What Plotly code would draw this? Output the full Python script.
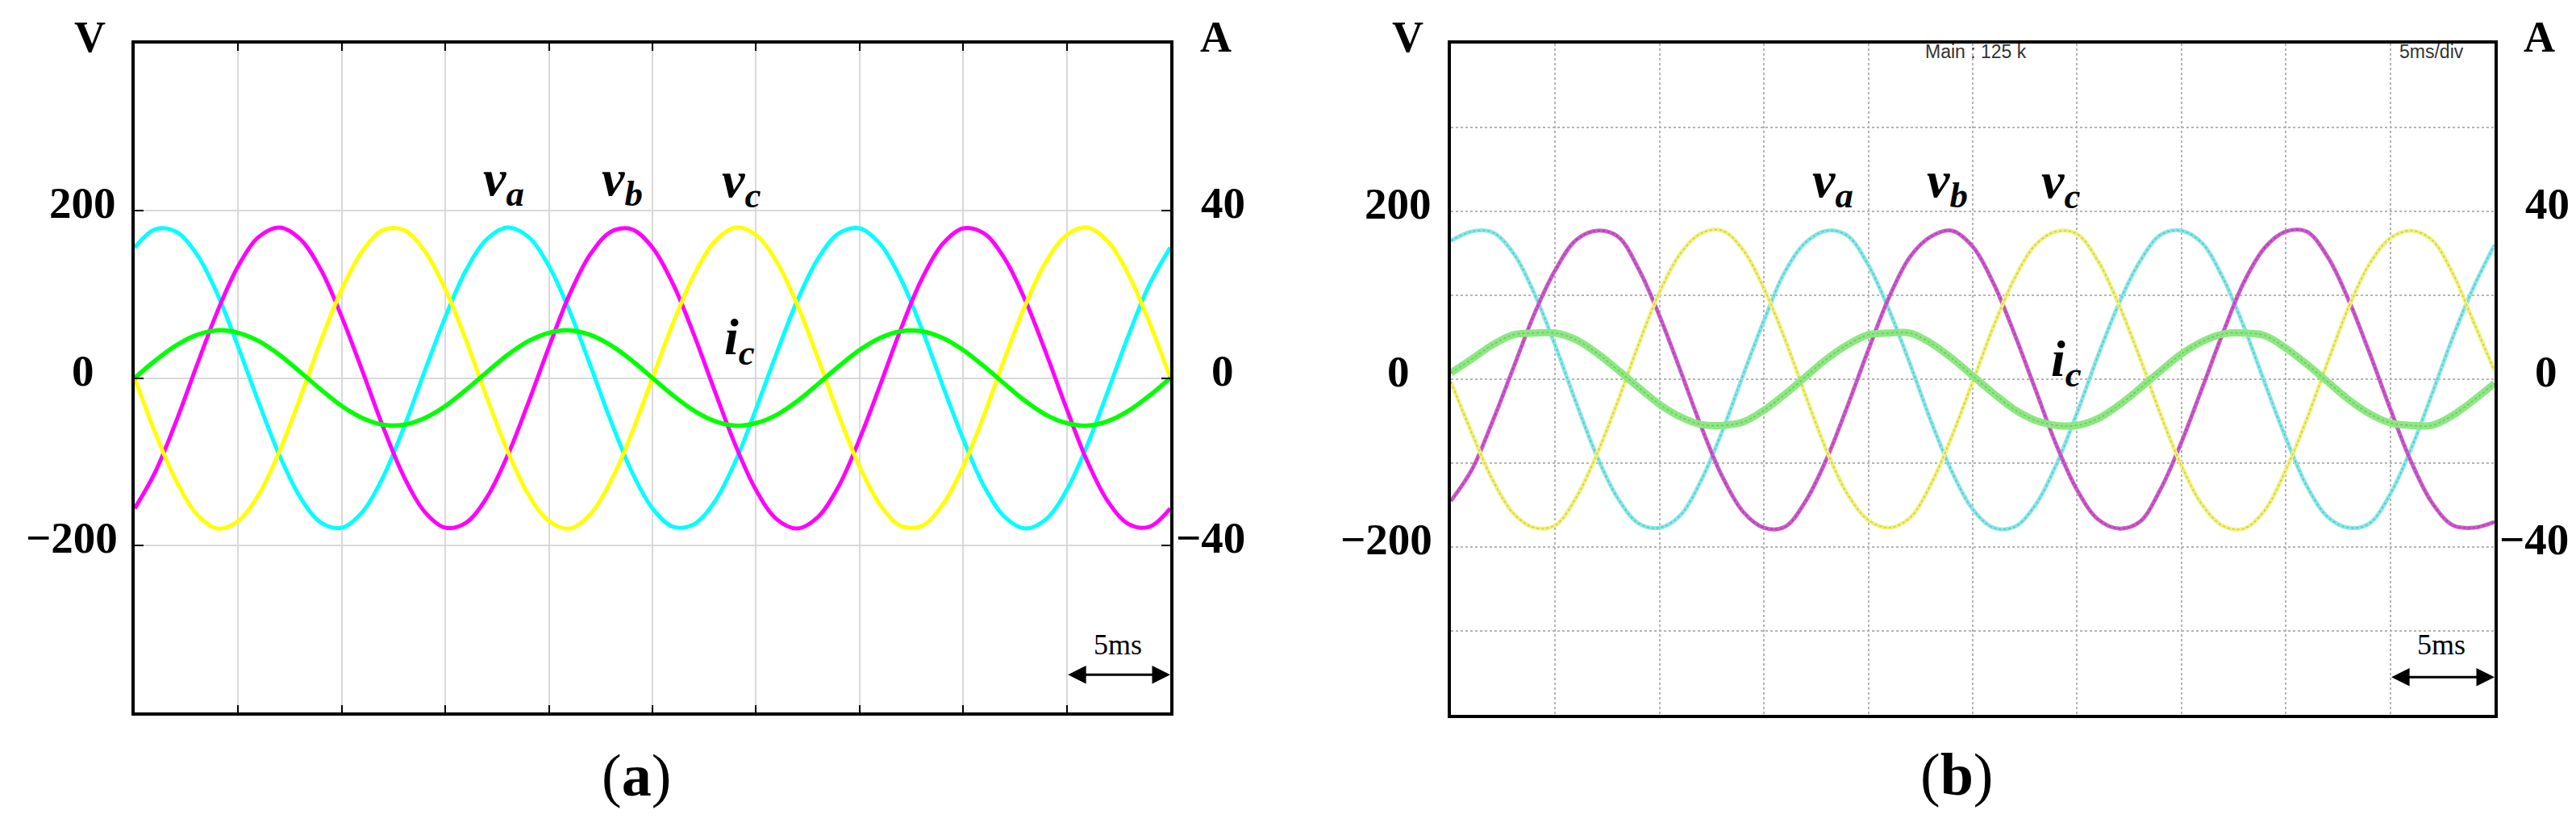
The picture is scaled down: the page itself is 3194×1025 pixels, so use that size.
import plotly.graph_objects as go

# time base (ms), one sample per ms, 5 ms/div, 10 divisions
T_MS = list(range(51))

# (a) simulation: phase voltages (V) and phase-c current (A)
VA_A = [156, 178, 175, 148, 100, 37, -30, -93, -143, -173, -179, -160, -118, -59, 8, 73, 129, 166, 180, 169,
        134, 80, 15, -52, -112, -156, -178, -175, -148, -100, -37, 30, 93, 143, 173, 179, 160, 118, 59, -8,
        -73, -129, -166, -180, -169, -134, -80, -15, 52, 112, 156]
VB_A = [-156, -112, -52, 15, 80, 134, 169, 180, 166, 129, 73, 8, -59, -118, -160, -179, -173, -143, -93, -30,
        37, 100, 148, 175, 178, 156, 112, 52, -15, -80, -134, -169, -180, -166, -129, -73, -8, 59, 118, 160,
        179, 173, 143, 93, 30, -37, -100, -148, -175, -178, -156]
VC_A = [0, -66, -123, -163, -180, -171, -139, -87, -23, 45, 106, 152, 177, 177, 152, 106, 45, -23, -87, -139,
        -171, -180, -163, -123, -66, 0, 66, 123, 163, 180, 171, 139, 87, 23, -45, -106, -152, -177, -177, -152,
        -106, -45, 23, 87, 139, 171, 180, 163, 123, 66, 0]
IC_A = [0, 4.2, 7.8, 10.3, 11.4, 10.8, 8.8, 5.5, 1.4, -2.8, -6.7, -9.6, -11.2, -11.2, -9.6, -6.7, -2.8, 1.4,
        5.5, 8.8, 10.8, 11.4, 10.3, 7.8, 4.2, 0, -4.2, -7.8, -10.3, -11.4, -10.8, -8.8, -5.5, -1.4, 2.8, 6.7,
        9.6, 11.2, 11.2, 9.6, 6.7, 2.8, -1.4, -5.5, -8.8, -10.8, -11.4, -10.3, -7.8, -4.2, 0]

# (b) experiment (oscilloscope capture)
VA_B = [165, 176, 175, 150, 102, 40, -28, -92, -142, -172, -177, -162, -120, -62, 5, 70, 128, 163, 177, 171,
        136, 82, 18, -50, -110, -155, -177, -176, -150, -102, -40, 28, 90, 140, 172, 177, 162, 120, 62, -5,
        -70, -127, -164, -177, -172, -137, -83, -18, 50, 110, 160]
VB_B = [-145, -108, -50, 14, 78, 130, 166, 177, 170, 131, 75, 10, -57, -116, -158, -177, -176, -145, -95, -32,
        35, 98, 146, 170, 177, 158, 114, 54, -12, -78, -132, -167, -178, -170, -131, -75, -10, 56, 116, 157,
        176, 176, 146, 95, 32, -35, -98, -147, -174, -177, -170]
VC_B = [-3, -64, -120, -160, -177, -174, -141, -89, -26, 42, 104, 150, 174, 177, 154, 108, 48, -20, -85, -137,
        -168, -177, -165, -125, -68, -3, 63, 120, 160, 176, 173, 141, 89, 26, -42, -103, -150, -175, -178, -156,
        -108, -48, 20, 85, 137, 168, 177, 166, 126, 68, 10]
IC_B = [1.5, 4.8, 8.2, 10.6, 11.0, 11.0, 9.4, 6.2, 2.2, -2.0, -6.0, -9.0, -10.8, -11.0, -10.2, -7.4, -3.6, 0.6,
        4.8, 8.2, 10.6, 11.0, 11.0, 8.6, 5.0, 0.8, -3.4, -7.2, -9.8, -11.0, -11.0, -9.4, -6.2, -2.2, 2.0, 6.0,
        9.0, 10.8, 11.0, 10.4, 7.4, 3.6, -0.6, -4.8, -8.2, -10.4, -11.0, -11.0, -8.6, -5.0, -1.0]

V_TICKS = [200, 0, -200]
V_TICK_TEXT = ["200", "0", "\u2212200"]
A_TICKS = [40, 0, -40]
A_TICK_TEXT = ["40", "0", "\u221240"]
SCALE_BAR = (45, 50)

W, H = 3194, 1025
SERIF = "Liberation Serif, Times New Roman, serif"
NARROW = "Liberation Sans Narrow, Arial Narrow, Liberation Sans, sans-serif"


def px(x):
    return x / W


def py(y):
    return 1 - y / H


fig = go.Figure()

# panel (a)
for ys, col in [(VA_A, "#00FFFF"), (VB_A, "#FF00FF"), (VC_A, "#FFFF00")]:
    fig.add_trace(go.Scatter(x=T_MS, y=ys, mode="lines", xaxis="x", yaxis="y",
                             line=dict(color=col, width=5, shape="spline")))
fig.add_trace(go.Scatter(x=T_MS, y=IC_A, mode="lines", xaxis="x", yaxis="y2",
                         line=dict(color="#00FF00", width=5.5, shape="spline")))

# panel (b): pale band with darker speckled edge
b_series = [(VA_B, "y3", "#86E8E8", "#2E7F80", 5),
            (VB_B, "y3", "#CC5ACC", "#6A1A6A", 5),
            (VC_B, "y3", "#F2F27A", "#8C8A30", 5),
            (IC_B, "y4", "#8CE880", "#3C8C3C", 9)]
for ys, ax, col, dark, w in b_series:
    fig.add_trace(go.Scatter(x=T_MS, y=ys, mode="lines", xaxis="x3", yaxis=ax,
                             line=dict(color=col, width=w, shape="spline")))
    fig.add_trace(go.Scatter(x=T_MS, y=ys, mode="lines", xaxis="x3", yaxis=ax, opacity=0.45,
                             line=dict(color=dark, width=1.3, dash="dot", shape="spline")))

axis_a = dict(showline=True, linecolor="black", linewidth=4, mirror="ticks",
              ticks="inside", tickcolor="black", tickwidth=2, showticklabels=False,
              showgrid=True, gridcolor="#d9d9d9", gridwidth=2, zeroline=False)
axis_b = dict(showline=True, linecolor="black", linewidth=4, mirror=True,
              ticks="", showticklabels=False, showgrid=True, gridcolor="#b4b4b4",
              gridwidth=2, griddash="dot", zeroline=False)

fig.update_layout(
    width=W, height=H, margin=dict(l=0, r=0, t=0, b=0),
    paper_bgcolor="white", plot_bgcolor="white", showlegend=False,
    xaxis=dict(axis_a, domain=[px(159), px(1443)], range=[0, 50], dtick=5, ticklen=9, anchor="y"),
    yaxis=dict(axis_a, domain=[py(875), py(46)], range=[-400, 400], tickvals=V_TICKS, ticklen=11, anchor="x"),
    yaxis2=dict(overlaying="y", anchor="x", side="right", range=[-80, 80], visible=False),
    xaxis3=dict(axis_b, domain=[px(1791), px(3085)], range=[0, 50], dtick=5, anchor="y3"),
    yaxis3=dict(axis_b, domain=[py(878), py(46)], range=[-400, 400], dtick=100, anchor="x3"),
    yaxis4=dict(overlaying="y3", anchor="x3", side="right", range=[-80, 80], visible=False),
)

ann = []


def label(text, x, y, size, xref="paper", yref="paper", family=SERIF, color="black",
          weight="normal", lift=None):
    # plotly sits serif text a little low; lift it back onto the intended centre
    if lift is None:
        lift = 0.17 * size
    ann.append(dict(text=text, x=x, y=y, xref=xref, yref=yref, showarrow=False,
                    xanchor="center", yanchor="middle", yshift=lift,
                    font=dict(family=family, size=size, color=color, weight=weight)))


# unit labels
for xc in (104, 1737):
    label("V", px(xc), py(47), 54, weight="bold")
for xc in (1499, 3140):
    label("A", px(xc), py(47), 54, weight="bold")

# tick labels, panel (a)
for v, t, xc in zip(V_TICKS, V_TICK_TEXT, (94, 95, 81)):
    label(t, px(xc), v, 55, yref="y", weight="bold")
for a, t, xc in zip(A_TICKS, A_TICK_TEXT, (1508, 1508, 1493)):
    label(t, px(xc), a, 55, yref="y2", weight="bold")
# tick labels, panel (b)
for v, t, xc in zip(V_TICKS, V_TICK_TEXT, (1725, 1726, 1711)):
    label(t, px(xc), v, 55, yref="y3", weight="bold")
for a, t, xc in zip(A_TICKS, A_TICK_TEXT, (3150, 3149, 3134)):
    label(t, px(xc), a, 55, yref="y4", weight="bold")


# trace names
def sym(base, sub):
    return "<i>%s</i><sub><i>%s</i></sub>" % (base, sub)


for txt, xc, yc in [(sym("v", "a"), 616, 241), (sym("v", "b"), 763, 241), (sym("v", "c"), 911, 243),
                    (sym("i", "c"), 909, 438),
                    (sym("v", "a"), 2264, 243), (sym("v", "b"), 2406, 243), (sym("v", "c"), 2547, 244),
                    (sym("i", "c"), 2554, 465)]:
    label(txt, px(xc), py(yc), 64, weight="bold", lift=24)

# 5 ms scale bars
for xa, ya, xc in [("x", "y", 1378), ("x3", "y3", 3019)]:
    ann.append(dict(x=SCALE_BAR[1], y=-355, ax=SCALE_BAR[0], ay=-355, xref=xa, yref=ya,
                    axref=xa, ayref=ya, text="", showarrow=True, arrowside="end+start",
                    arrowhead=2, arrowsize=1.5, arrowwidth=3, arrowcolor="black",
                    standoff=0, startstandoff=0))
    label("5ms", px(xc), py(797), 36)

# oscilloscope header texts
label("Main : 125 k", px(2442), py(60), 23, family=NARROW, color="#333333")
label("5ms/div", px(3007), py(60), 23, family=NARROW, color="#333333")

# captions
label("(<b>a</b>)", px(781), py(966), 74)
label("(<b>b</b>)", px(2418), py(965), 74)

fig.update_layout(annotations=ann)
fig.write_html("out.html")
